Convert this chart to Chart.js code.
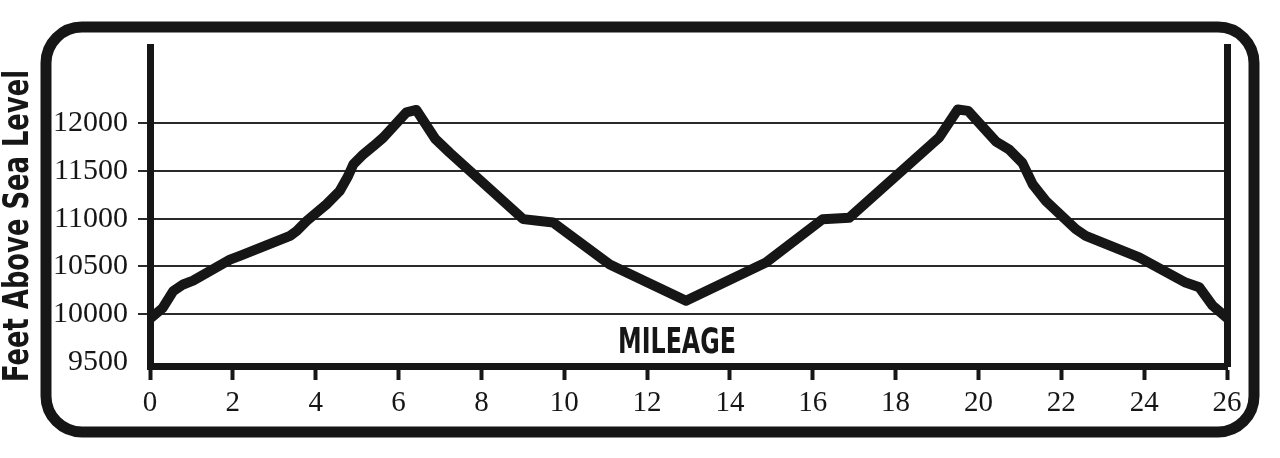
<!DOCTYPE html>
<html>
<head>
<meta charset="utf-8">
<script src="https://cdn.jsdelivr.net/npm/chart.js@4.4.1/dist/chart.umd.min.js"></script>
<style>
  html, body { margin: 0; padding: 0; background: #fff; }
  #wrap { width: 1280px; height: 458px; }
</style>
</head>
<body>
<div id="wrap"><canvas id="profile"></canvas></div>
<script>
// elevation profile
var mileage = [0, 0.3, 0.56, 0.8, 1.04, 1.93, 2.17, 3.38, 3.54, 3.78, 4.26, 4.58, 4.78, 4.91, 5.15, 5.39, 5.63,
  6.19, 6.43, 6.88, 7.24, 9.01, 9.73, 11.1, 12.94, 14.87, 16.24, 16.88, 19.05, 19.5, 19.75, 20.42, 20.74,
  21.06, 21.31, 21.63, 22.35, 22.59, 23.88, 25.0, 25.33, 25.65, 26];
var elevation = [9950, 10060, 10240, 10310, 10350, 10570, 10610, 10820, 10870, 10975, 11150, 11290, 11445, 11570, 11675, 11760, 11850,
  12115, 12140, 11840, 11690, 10995, 10960, 10520, 10140, 10540, 10995, 11010, 11850, 12145, 12130, 11810, 11725,
  11585, 11360, 11185, 10890, 10820, 10595, 10330, 10280, 10090, 9960];
var xTicks = [0, 2, 4, 6, 8, 10, 12, 14, 16, 18, 20, 22, 24, 26];
var yTicks = [9500, 10000, 10500, 11000, 11500, 12000];
var yTitle = "Feet Above Sea Level";
var xTitle = "MILEAGE";

var ink = "#161616";

//rounded frame plus the two condensed titles
var decor = {
  id: "decor",
  beforeDraw: function (chart) {
    var ctx = chart.ctx;
    ctx.save();
    ctx.strokeStyle = ink;
    ctx.lineWidth = 11;
    ctx.beginPath();
    ctx.roundRect(46, 27, 1208, 405, 36);
    ctx.stroke();
    ctx.restore();
  },
  afterDraw: function (chart) {
    var ctx = chart.ctx;
    var area = chart.chartArea;
    ctx.save();
    ctx.fillStyle = ink;
    ctx.font = "bold 36px 'DejaVu Sans'";
    ctx.textAlign = "center";
    ctx.textBaseline = "alphabetic";
    //y title, squeezed to the length in the picture
    ctx.save();
    ctx.translate(28, 226);
    ctx.rotate(-Math.PI / 2);
    ctx.scale(312 / ctx.measureText(yTitle).width, 1);
    ctx.fillText(yTitle, 0, 0);
    ctx.restore();
    //mileage label sits inside the plot
    ctx.save();
    ctx.translate(area.left + 527, area.bottom - 13);
    ctx.scale(118 / ctx.measureText(xTitle).width, 1);
    ctx.fillText(xTitle, 0, 0);
    ctx.restore();
    ctx.restore();
  },
};

Chart.defaults.font.family = "'Liberation Serif', serif";
Chart.defaults.color = ink;

var points = mileage.map(function (m, i) {
  return { x: m, y: elevation[i] };
});

//plain numbers, no thousands separator
function plain(v) {
  return String(v);
}

new Chart(document.getElementById("profile"), {
  type: "line",
  data: {
    datasets: [
      {
        data: points,
        borderColor: ink,
        borderWidth: 10,
        borderJoinStyle: "round",
        borderCapStyle: "round",
        pointRadius: 0,
        tension: 0,
      },
    ],
  },
  options: {
    responsive: true,
    maintainAspectRatio: false,
    animation: false,
    layout: { padding: { top: 47 } },
    plugins: { legend: { display: false }, tooltip: { enabled: false } },
    scales: {
      x: {
        type: "linear",
        min: 0,
        max: 26,
        afterBuildTicks: function (scale) {
          scale.ticks = xTicks.map(function (v) { return { value: v }; });
        },
        afterFit: function (scale) { scale.height = 92; },
        grid: { drawOnChartArea: false, tickLength: 14, tickWidth: 4, color: ink },
        border: { color: ink, width: 7 },
        ticks: { font: { size: 29 }, padding: 6, maxRotation: 0, autoSkip: false, callback: plain },
      },
      y: {
        min: 9455,
        max: 12800,
        afterBuildTicks: function (scale) {
          scale.ticks = yTicks.map(function (v) { return { value: v }; });
        },
        afterFit: function (scale) { scale.width = 150; },
        grid: {
          lineWidth: 2,
          tickLength: 12,
          color: function (c) { return c.index === 0 ? "rgba(0,0,0,0)" : "#2a2a2a"; },
        },
        border: { color: ink, width: 7 },
        ticks: { font: { size: 30 }, padding: 10, callback: plain },
      },
      y2: {
        position: "right",
        afterFit: function (scale) { scale.width = 53; },
        grid: { display: false },
        border: { color: ink, width: 7 },
        ticks: { display: false },
      },
    },
  },
  plugins: [decor],
});
</script>
</body>
</html>
